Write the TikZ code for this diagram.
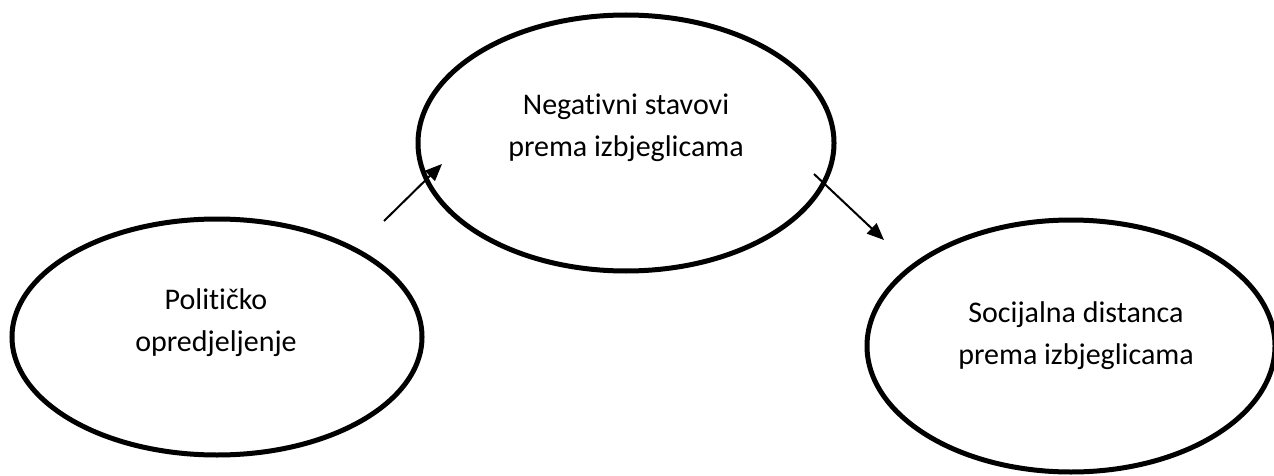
\documentclass[tikz,border=0pt]{standalone}
\usepackage{fontspec}
\setmainfont{Carlito}[Ligatures={NoCommon}]
\usetikzlibrary{shapes.geometric,arrows.meta}
\begin{document}
\begin{tikzpicture}[x=0.5pt,y=-0.5pt,
  oval/.style={draw=black,line width=2.5pt,ellipse,inner sep=0pt},
  lbl/.style={align=center,font=\fontsize{15}{21}\selectfont,inner sep=0pt},
  arr/.style={line width=1pt,-{Triangle[length=8.5pt,width=7pt]}}]
\useasboundingbox (0,0) rectangle (1274,476);
\clip (0,0) rectangle (1274,476);
\node[oval,minimum width=205pt,minimum height=118pt] (pol) at (217,337) {};
\node[oval,minimum width=208pt,minimum height=128pt] (neg) at (626,143) {};
\node[oval,minimum width=204pt,minimum height=126pt] (soc) at (1071,346) {};
\node[lbl] (polt) at (216,323) {Političko\\opredjeljenje};
\node[lbl] (negt) at (626,128) {Negativni stavovi\\prema izbjeglicama};
\node[lbl] (soct) at (1076,336) {Socijalna distanca\\prema izbjeglicama};
\coordinate (a1s) at (384,221);
\coordinate (a1e) at (442,164);
\coordinate (a2s) at (814,174);
\coordinate (a2e) at (884,240);
\draw[arr] (a1s) -- (a1e);
\draw[arr] (a2s) -- (a2e);
\end{tikzpicture}
\end{document}
